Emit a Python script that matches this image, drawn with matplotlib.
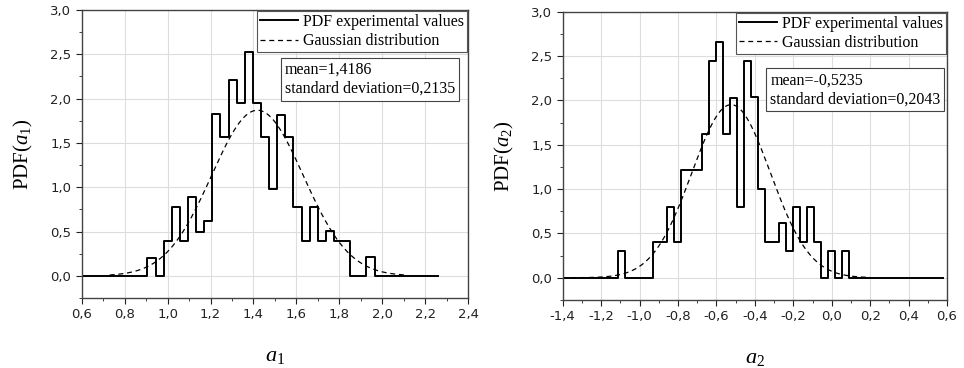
import matplotlib
matplotlib.use('Agg')
import matplotlib.pyplot as plt
from matplotlib.ticker import FuncFormatter, MultipleLocator
import numpy as np

# ---- data ----
# left panel, a1
a1_start = 0.906
a1_width = 0.0378
a1_heights = [0.20, 0.0, 0.39, 0.78, 0.39, 0.89, 0.49, 0.62, 1.83, 1.57,
              2.21, 1.95, 2.53, 1.95, 1.57, 0.98, 1.82, 1.57, 0.78, 0.39,
              0.78, 0.39, 0.51, 0.39, 0.39, 0.0, 0.0, 0.21]
a1_range = (0.60, 2.26)
a1_mean, a1_std = 1.4186, 0.2135
a1_gauss_range = (0.73, 2.11)

# right panel, a2
a2_start = -1.114
a2_width = 0.0365
a2_heights = [0.30, 0.0, 0.0, 0.0, 0.0, 0.40, 0.40, 0.80, 0.40, 1.21,
              1.21, 1.21, 1.62, 2.44, 2.66, 1.62, 2.03, 0.80, 2.44, 2.04,
              1.00, 0.40, 0.40, 0.62, 0.30, 0.80, 0.40, 0.80, 0.40, 0.0,
              0.30, 0.0, 0.30]
a2_range = (-1.40, 0.58)
a2_mean, a2_std = -0.5235, 0.2043
a2_gauss_range = (-1.40, 0.20)

panels = [
    dict(start=a1_start, width=a1_width, h=a1_heights, rng=a1_range,
         mean=a1_mean, std=a1_std, grng=a1_gauss_range, xlim=(0.6, 2.4),
         xmaj=0.2, xlabel=r'$a_1$', ylabel=r'PDF($a_1$)',
         stats='mean=1,4186\nstandard deviation=0,2135',
         rect=[0.0848, 0.190, 0.4007, 0.783], stats_xy=(0.525, 0.82)),
    dict(start=a2_start, width=a2_width, h=a2_heights, rng=a2_range,
         mean=a2_mean, std=a2_std, grng=a2_gauss_range, xlim=(-1.4, 0.6),
         xmaj=0.2, xlabel=r'$a_2$', ylabel=r'PDF($a_2$)',
         stats='mean=-0,5235\nstandard deviation=0,2043',
         rect=[0.5837, 0.185, 0.3987, 0.783], stats_xy=(0.54, 0.79)),
]

plt.rcParams['font.family'] = ['DejaVu Sans']
plt.rcParams['mathtext.fontset'] = 'custom'
plt.rcParams['mathtext.it'] = 'Liberation Serif:italic'
plt.rcParams['mathtext.rm'] = 'Liberation Serif'

comma = FuncFormatter(lambda v, p: ('%.1f' % v).replace('.', ','))

fig = plt.figure(figsize=(9.64, 3.68), dpi=100)

for p in panels:
    ax = fig.add_axes(p['rect'])
    edges = p['start'] + p['width'] * np.arange(len(p['h']) + 1)
    xs = np.concatenate([[p['rng'][0]], edges, [p['rng'][1]]])
    ys = np.concatenate([[0.0], p['h'], [0.0, 0.0]])
    ax.step(xs, ys, where='post', color='black', lw=1.4,
            label='PDF experimental values')
    g = np.linspace(p['grng'][0], p['grng'][1], 300)
    pdf = np.exp(-0.5 * ((g - p['mean']) / p['std']) ** 2) / (p['std'] * np.sqrt(2 * np.pi))
    ax.plot(g, pdf, color='black', ls=(0, (4, 3)), lw=0.9,
            label='Gaussian distribution')

    ax.set_xlim(p['xlim'])
    ax.set_ylim(-0.25, 3.0)
    ax.xaxis.set_major_locator(MultipleLocator(p['xmaj']))
    ax.xaxis.set_minor_locator(MultipleLocator(p['xmaj'] / 2))
    ax.yaxis.set_major_locator(MultipleLocator(0.5))
    ax.yaxis.set_minor_locator(MultipleLocator(0.25))
    ax.xaxis.set_major_formatter(comma)
    ax.yaxis.set_major_formatter(comma)
    ax.tick_params(which='both', direction='out', labelsize=9.5, colors='#222222')
    ax.tick_params(which='major', length=4)
    ax.tick_params(which='minor', length=2.5)
    ax.grid(True, which='major', color='#dddddd', lw=0.8)
    ax.set_axisbelow(True)
    for s in ax.spines.values():
        s.set_color('#444444')
        s.set_linewidth(1.0)

    ax.set_xlabel(p['xlabel'], fontsize=16, labelpad=18)
    ax.set_ylabel(p['ylabel'], fontsize=15, family='Liberation Serif', labelpad=11)

    lgd = ax.legend(loc='upper right', bbox_to_anchor=(1.0, 1.0),
                    prop={'family': 'Liberation Serif', 'size': 11.5},
                    fancybox=False, framealpha=1, edgecolor='#555555',
                    handlelength=2.4, handletextpad=0.3, borderpad=0.2,
                    labelspacing=0.2, borderaxespad=0.05)
    lgd.get_frame().set_linewidth(0.8)

    ax.text(p['stats_xy'][0], p['stats_xy'][1], p['stats'], transform=ax.transAxes,
            ha='left', va='top', multialignment='left',
            family='Liberation Serif', fontsize=11.5, linespacing=1.25,
            bbox=dict(boxstyle='square,pad=0.25', fc='white', ec='#444444', lw=0.8))

plt.savefig('out.png', dpi=100)
